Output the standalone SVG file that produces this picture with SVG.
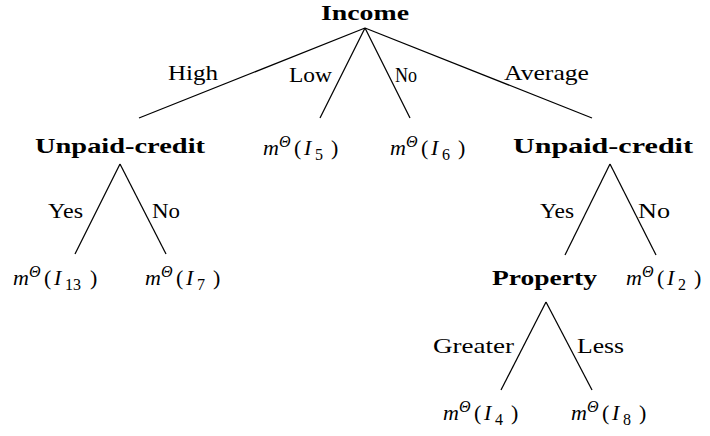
<svg xmlns="http://www.w3.org/2000/svg" width="710" height="436" viewBox="0 0 710 436">
<style>
text{font-family:"Liberation Serif","Times New Roman",serif;font-size:22px;fill:#000}
.b{font-weight:bold}
.i{font-style:italic}
.sup{font-style:italic;font-size:16px}
.sub{font-size:16px}
.e line{stroke:#000;stroke-width:1.25;fill:none}
</style>
<rect width="710" height="436" fill="#fff"/>
<g id="connectors" class="e">
<line x1="365" y1="28" x2="139" y2="118"/>
<line x1="365" y1="28" x2="320" y2="118"/>
<line x1="365" y1="28" x2="410" y2="118"/>
<line x1="365" y1="28" x2="592" y2="118"/>
<line x1="120" y1="164" x2="75" y2="254"/>
<line x1="120" y1="164" x2="166" y2="254"/>
<line x1="610" y1="164" x2="565" y2="255"/>
<line x1="610" y1="164" x2="656" y2="255"/>
<line x1="546" y1="302" x2="501" y2="390"/>
<line x1="546" y1="302" x2="592" y2="390"/>
<text x="168" y="80" textLength="50" lengthAdjust="spacingAndGlyphs">High</text>
<text x="289" y="82" textLength="43" lengthAdjust="spacingAndGlyphs">Low</text>
<text x="395" y="82" textLength="22" lengthAdjust="spacingAndGlyphs">No</text>
<text x="504" y="80" textLength="85" lengthAdjust="spacingAndGlyphs">Average</text>
<text x="48" y="218" textLength="35" lengthAdjust="spacingAndGlyphs">Yes</text>
<text x="152" y="218" textLength="28" lengthAdjust="spacingAndGlyphs">No</text>
<text x="540" y="218" textLength="34" lengthAdjust="spacingAndGlyphs">Yes</text>
<text x="638" y="218" textLength="32" lengthAdjust="spacingAndGlyphs">No</text>
<text x="433" y="353" textLength="81" lengthAdjust="spacingAndGlyphs">Greater</text>
<text x="577" y="353" textLength="47" lengthAdjust="spacingAndGlyphs">Less</text>
</g>
<g id="income"><text class="b" x="321" y="20" textLength="88" lengthAdjust="spacingAndGlyphs">Income</text></g>
<g id="unpaid-credit-left"><text class="b" x="35" y="153" textLength="170" lengthAdjust="spacingAndGlyphs">Unpaid-credit</text></g>
<g id="m-I5"><text y="155"><tspan x="263" class="i">m</tspan><tspan x="279" dy="-8" class="sup">Θ</tspan><tspan x="294" dy="8">(</tspan><tspan x="304" class="i">I</tspan><tspan x="315" dy="5" class="sub">5</tspan><tspan x="331" dy="-5">)</tspan></text></g>
<g id="m-I6"><text y="155"><tspan x="390" class="i">m</tspan><tspan x="406" dy="-8" class="sup">Θ</tspan><tspan x="421" dy="8">(</tspan><tspan x="431" class="i">I</tspan><tspan x="442" dy="5" class="sub">6</tspan><tspan x="458" dy="-5">)</tspan></text></g>
<g id="unpaid-credit-right"><text class="b" x="513" y="153" textLength="180" lengthAdjust="spacingAndGlyphs">Unpaid-credit</text></g>
<g id="m-I13"><text y="285"><tspan x="13" class="i">m</tspan><tspan x="29" dy="-8" class="sup">Θ</tspan><tspan x="44" dy="8">(</tspan><tspan x="54" class="i">I</tspan><tspan x="65" dy="5" class="sub">13</tspan><tspan x="90" dy="-5">)</tspan></text></g>
<g id="m-I7"><text y="285"><tspan x="145" class="i">m</tspan><tspan x="161" dy="-8" class="sup">Θ</tspan><tspan x="176" dy="8">(</tspan><tspan x="186" class="i">I</tspan><tspan x="197" dy="5" class="sub">7</tspan><tspan x="213" dy="-5">)</tspan></text></g>
<g id="property"><text class="b" x="492" y="285" textLength="105" lengthAdjust="spacingAndGlyphs">Property</text></g>
<g id="m-I2"><text y="285"><tspan x="626" class="i">m</tspan><tspan x="642" dy="-8" class="sup">Θ</tspan><tspan x="657" dy="8">(</tspan><tspan x="667" class="i">I</tspan><tspan x="678" dy="5" class="sub">2</tspan><tspan x="694" dy="-5">)</tspan></text></g>
<g id="m-I4"><text y="420"><tspan x="443" class="i">m</tspan><tspan x="459" dy="-8" class="sup">Θ</tspan><tspan x="474" dy="8">(</tspan><tspan x="484" class="i">I</tspan><tspan x="495" dy="5" class="sub">4</tspan><tspan x="511" dy="-5">)</tspan></text></g>
<g id="m-I8"><text y="420"><tspan x="571" class="i">m</tspan><tspan x="587" dy="-8" class="sup">Θ</tspan><tspan x="602" dy="8">(</tspan><tspan x="612" class="i">I</tspan><tspan x="623" dy="5" class="sub">8</tspan><tspan x="639" dy="-5">)</tspan></text></g>
</svg>
